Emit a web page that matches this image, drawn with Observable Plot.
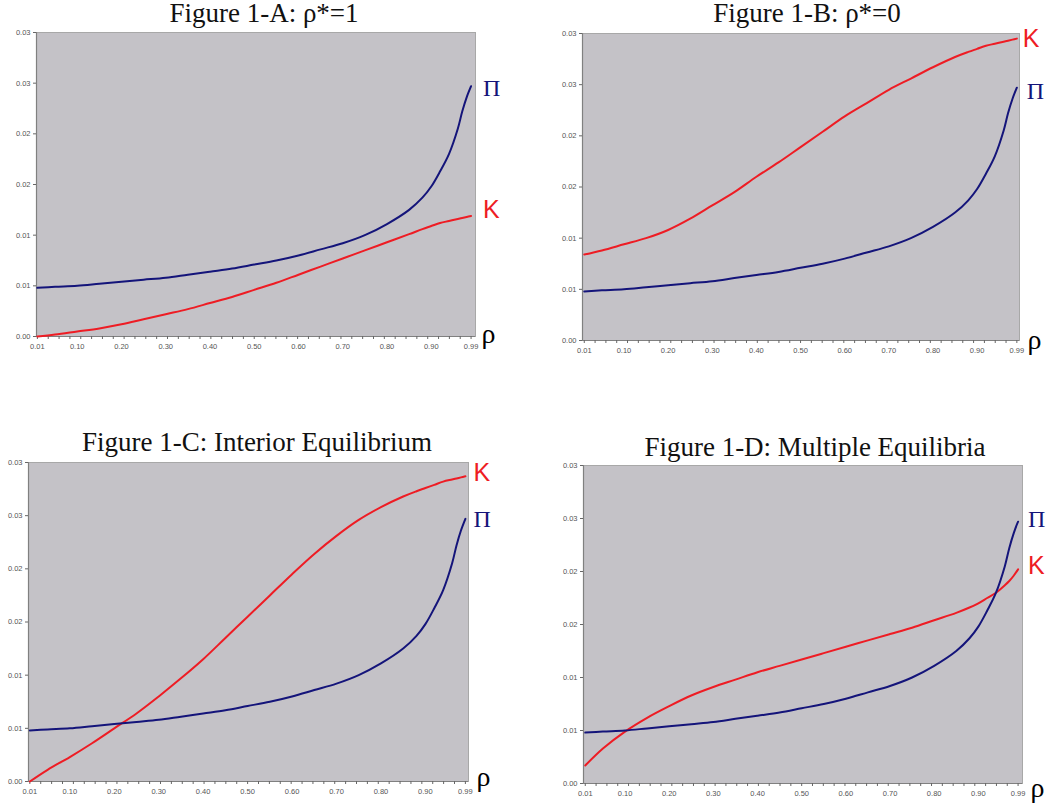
<!DOCTYPE html>
<html><head><meta charset="utf-8">
<script src="https://cdn.jsdelivr.net/npm/d3@7"></script>
<script src="https://cdn.jsdelivr.net/npm/@observablehq/plot@0.6"></script>
<style>
html,body{margin:0;padding:0;background:#fff}
body{width:1049px;height:803px;position:relative;overflow:hidden;font-family:"Liberation Sans",Arial,sans-serif}
.title{position:absolute;font-family:"Liberation Serif","Times New Roman",serif;font-size:27px;line-height:1;color:#111;white-space:nowrap;transform:translateX(-50%)}
.panel{position:absolute}
.panel svg{overflow:visible}
</style></head><body>
<script>
// rho grid (x values)
const rho = [0.01,0.05,0.10,0.15,0.20,0.25,0.30,0.35,0.40,0.45,0.50,0.55,0.60,0.65,0.70,0.75,0.80,0.85,0.88,0.90,0.92,0.94,0.96,0.97,0.98,0.99];
// Π curve (same in all four panels)
const piVals = [0.0048,0.0049,0.0050,0.0052,0.0054,0.0056,0.0058,0.0061,0.0064,0.0067,0.0071,0.0075,0.0080,0.0086,0.0092,0.0100,0.0111,0.0125,0.0137,0.0148,0.0163,0.0180,0.0205,0.0222,0.0236,0.0247];
// K curves
const kA = [0.0000,0.0002,0.0005,0.0008,0.0012,0.0017,0.0022,0.0027,0.0033,0.0039,0.0046,0.0053,0.0061,0.0069,0.0077,0.0085,0.0093,0.0101,0.0106,0.0109,0.0112,0.0114,0.0116,0.0117,0.0118,0.0119];
const kB = [0.0084,0.0088,0.0094,0.0100,0.0108,0.0119,0.0132,0.0145,0.0160,0.0174,0.0189,0.0204,0.0219,0.0232,0.0245,0.0256,0.0267,0.0277,0.0282,0.0285,0.0288,0.0290,0.0292,0.0293,0.0294,0.0295];
const kC = [0.0000,0.0011,0.0023,0.0036,0.0050,0.0064,0.0080,0.0097,0.0115,0.0135,0.0155,0.0175,0.0195,0.0214,0.0231,0.0246,0.0258,0.0268,0.0273,0.0276,0.0279,0.0282,0.0284,0.0285,0.0286,0.0287];
const kD = [0.0017,0.0033,0.0049,0.0062,0.0073,0.0083,0.0091,0.0098,0.0105,0.0111,0.0117,0.0123,0.0129,0.0135,0.0141,0.0147,0.0154,0.0161,0.0166,0.0170,0.0175,0.0180,0.0187,0.0191,0.0196,0.0202];
// axis ticks
const xTickValues = [0.01,0.10,0.20,0.30,0.40,0.50,0.60,0.70,0.80,0.90,0.99];
const xTickLabels = ["0.01","0.10","0.20","0.30","0.40","0.50","0.60","0.70","0.80","0.90","0.99"];
const yTickValues = [0,0.005,0.010,0.015,0.020,0.025,0.030];
const yTickLabels = ["0.00","0.01","0.01","0.02","0.02","0.03","0.03"];
const titles = ["Figure 1-A: \u03c1*=1","Figure 1-B: \u03c1*=0","Figure 1-C: Interior Equilibrium","Figure 1-D: Multiple Equilibria"];

const BG = "#c4c2c7", NAVY = "#14147a", RED = "#ee1c24";
const minorTicks = d3.range(0, 41).map(i => 0.01 + i * 0.0245);
const xLab = new Map(xTickValues.map((v, i) => [v, xTickLabels[i]]));
const yLab = new Map(yTickValues.map((v, i) => [v, yTickLabels[i]]));

function panel(cfg) {
  const piData = rho.map((r, i) => ({r, v: piVals[i]}));
  const kData = rho.map((r, i) => ({r, v: cfg.k[i]}));
  const last = rho.length - 1;
  const chart = Plot.plot({
    width: cfg.w, height: cfg.h,
    marginLeft: cfg.ml, marginRight: cfg.mr, marginTop: cfg.mt, marginBottom: cfg.mb,
    style: {fontFamily: "'Liberation Sans', Arial, sans-serif", background: "transparent", overflow: "visible"},
    x: {type: "linear", domain: cfg.xd, axis: null},
    y: {type: "linear", domain: [0, 0.03], axis: null},
    marks: [
      Plot.frame({fill: BG, stroke: "#a8a8a8"}),
      Plot.ruleY([0], {stroke: "#808080", strokeWidth: 1.2}),
      Plot.ruleX([cfg.xd[0]], {stroke: "#808080", strokeWidth: 1.2}),
      Plot.axisX(minorTicks, {tickSize: 3, tickFormat: () => "", stroke: "#666", label: null}),
      Plot.axisX(xTickValues, {tickSize: 0, tickPadding: 7, tickFormat: d => xLab.get(d), fontSize: 7.5, fill: "#555", label: null}),
      Plot.axisY(yTickValues, {tickSize: 3, tickPadding: 3, tickFormat: d => yLab.get(d), fontSize: 7.5, fill: "#555", stroke: "#666", label: null}),
      Plot.line(kData, {x: "r", y: "v", stroke: RED, strokeWidth: 2, curve: "catmull-rom"}),
      Plot.line(piData, {x: "r", y: "v", stroke: NAVY, strokeWidth: 2, curve: "catmull-rom"}),
      Plot.text([kData[last]], {x: "r", y: "v", text: () => "K", dx: cfg.kdx, dy: cfg.kdy, textAnchor: "start", fill: RED, fontSize: 25, fontFamily: "'Liberation Sans', Arial, sans-serif"}),
      Plot.text([piData[last]], {x: "r", y: "v", text: () => "\u03a0", dx: cfg.pdx, dy: cfg.pdy, textAnchor: "start", fill: NAVY, fontSize: 24, fontFamily: "'Liberation Serif', 'Times New Roman', serif"}),
      Plot.text([{r: cfg.xd[1], v: 0}], {x: "r", y: "v", text: () => "\u03c1", dx: cfg.rdx, dy: cfg.rdy, textAnchor: "start", fill: "#000", fontSize: 28, fontFamily: "'Liberation Serif', 'Times New Roman', serif"})
    ]
  });
  const div = document.createElement("div");
  div.className = "panel";
  div.style.left = cfg.left + "px";
  div.style.top = cfg.top + "px";
  div.appendChild(chart);
  document.body.appendChild(div);
}

function title(text, cx, top) {
  const d = document.createElement("div");
  d.className = "title";
  d.textContent = text;
  d.style.left = cx + "px";
  d.style.top = top + "px";
  document.body.appendChild(d);
}

panel({k: kA, left: 0, top: 24, w: 520, h: 340, ml: 36, mr: 45, mt: 8, mb: 28, xd: [0.008, 1.0], kdx: 12, kdy: -6, pdx: 12, pdy: 2, rdx: 6, rdy: -2});
panel({k: kB, left: 530, top: 24, w: 519, h: 346, ml: 52, mr: 30, mt: 9, mb: 30, xd: [0.006, 0.996], kdx: 6, kdy: 0, pdx: 10, pdy: 4, rdx: 8, rdy: 0});
panel({k: kC, left: 0, top: 452, w: 520, h: 351, ml: 28, mr: 52, mt: 10, mb: 22, xd: [0.007, 0.997], kdx: 8, kdy: -3, pdx: 8, pdy: 0, rdx: 8, rdy: -4});
panel({k: kD, left: 530, top: 455, w: 519, h: 348, ml: 53, mr: 27, mt: 10, mb: 20, xd: [0.006, 1.0], kdx: 10, kdy: -3, pdx: 10, pdy: -2, rdx: 8, rdy: 5});

title(titles[0], 264, 0);
title(titles[1], 807, 0);
title(titles[2], 257, 429);
title(titles[3], 815, 434);
</script>
</body></html>
